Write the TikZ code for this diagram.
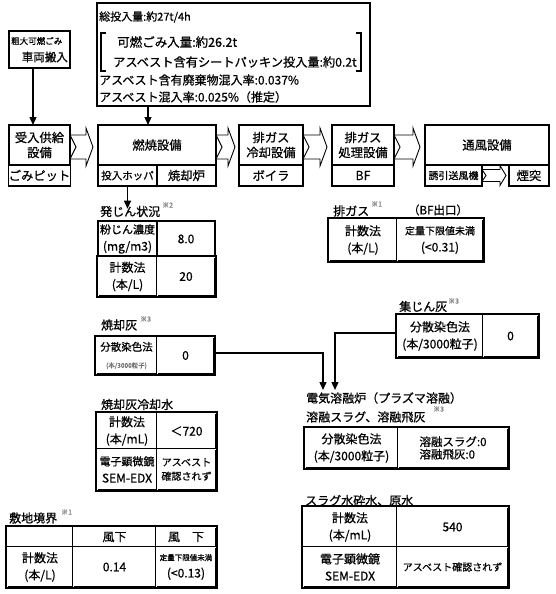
\documentclass[tikz,border=0pt]{standalone}
\usepackage{fontspec}
\setmainfont{Noto Sans CJK JP}[RawFeature={embolden=0.7}]
\usetikzlibrary{arrows.meta,calc}
\newcommand\fs[2]{\fontsize{#1}{#2}\selectfont}
\newcommand\mycell[7][]{\node[cellbase,#1,minimum width={(#5-#3)*1pt},minimum height={(#6-#4)*1pt}] (#2) at ({(#3+#5)/2},{(#4+#6)/2}) {#7};}
\newcommand\tframe[2]{\draw[frame] ([shift={(-1,-1)}]#1.north west) rectangle ([shift={(1,1)}]#2.south east);}
% #1 from, #2 to, #3 centre offset below from.north east, #4 body half, #5 head half, #6 notch, #7 head length, #8 gap
\newcommand\blockarr[8]{%
\draw[barrow] let \p1=(#1.north east), \p2=(#2.west) in
 ({\x1},{\y1-#3pt+#4pt}) -- ({\x2-#8pt-#7pt},{\y1-#3pt+#4pt}) -- ({\x2-#8pt-#7pt},{\y1-#3pt+#5pt}) -- ({\x2-#8pt},{\y1-#3pt}) -- ({\x2-#8pt-#7pt},{\y1-#3pt-#5pt}) -- ({\x2-#8pt-#7pt},{\y1-#3pt-#4pt}) -- ({\x1},{\y1-#3pt-#4pt}) -- ({\x1+#6pt},{\y1-#3pt}) -- cycle;}
\begin{document}
\begin{tikzpicture}[x=1pt,y=-1pt,
 cellbase/.style={inner sep=0pt, outer sep=0pt, align=center, font=\fs{12}{17}},
 pbox/.style={draw, line width=1.3pt, font=\fs{12.3}{15}},
 scell/.style={draw, line width=1.1pt},
 dcell/.style={draw, line width=0.6pt, double=white, double distance=1.0pt},
 frame/.style={draw, line width=1.1pt},
 lbl/.style={inner sep=0pt, anchor=west, font=\fs{12}{14}},
 note/.style={inner sep=0pt, anchor=west, text=black!50, font=\fs{7}{8}},
 txt/.style={inner sep=0pt, anchor=west, font=\fs{12}{14}},
 arr/.style={line width=1.3pt, -{Triangle[width=7pt,length=8pt]}},
 barrow/.style={line width=0.9pt, fill=white, line join=miter},
 brk/.style={line width=1.1pt}
]
\path[use as bounding box, fill=white] (0,0) rectangle (555,594);

% ---- top boxes
\mycell[draw, line width=1.3pt]{sodai}{9}{31}{70}{68}{}
\node[txt, font=\fs{8.5}{10}] (sodaiA) at (11,41) {粗大可燃ごみ};
\node[txt, anchor=east, font=\fs{11.5}{14}] (sodaiB) at (68,57) {車両搬入};

\mycell[draw, line width=1.2pt]{info}{97}{3}{370}{106}{}
\node[txt, font=\fs{11}{13}] (i1) at (99,17) {総投入量:約27t/4h};
\node[txt, font=\fs{12.5}{14}] (i2) at (117,42) {可燃ごみ入量:約26.2t};
\node[txt, font=\fs{12.2}{14}] (i3) at (113,62) {アスベスト含有シートパッキン投入量:約0.2t};
\node[txt] (i4) at (99,80) {アスベスト含有廃棄物混入率:0.037\%};
\node[txt] (i5) at (99,97) {アスベスト混入率:0.025\%（推定）};
\draw[brk] (106,33) -- (101,33) -- (101,71) -- (106,71);
\draw[brk] (356,33) -- (361,33) -- (361,71) -- (356,71);

% ---- process row
\mycell[pbox]{ukeireT}{9}{125}{70}{165}{受入供給\\設備}
\mycell[pbox]{ukeireB}{9}{165}{70}{186}{ごみピット}
\mycell[pbox]{nenshoT}{98}{125}{216}{165}{燃焼設備}
\mycell[pbox, font=\fs{10.5}{13}]{hopper}{98}{165}{157}{186}{投入ホッパ}
\mycell[pbox]{furnace}{157}{165}{216}{186}{焼却炉}
\mycell[pbox]{coolT}{239}{125}{303}{165}{排ガス\\冷却設備}
\mycell[pbox]{boiler}{239}{165}{303}{186}{ボイラ}
\mycell[pbox]{treatT}{332}{125}{394}{165}{排ガス\\処理設備}
\mycell[pbox]{bf}{332}{165}{394}{186}{BF}
\mycell[pbox]{fanT}{425}{125}{549}{165}{通風設備}
\mycell[pbox, font=\fs{10}{12}]{yuin}{425}{165}{482}{186}{誘引送風機}
\mycell[pbox]{entotsu}{509}{165}{549}{186}{煙突}

\blockarr{ukeireT}{nenshoT}{22}{12}{19}{6}{7}{5}
\blockarr{nenshoT}{coolT}{22}{12}{19}{6}{7}{4}
\blockarr{coolT}{treatT}{22}{12}{19}{6}{7}{5}
\blockarr{treatT}{fanT}{22}{12}{19}{6}{7}{5}
\blockarr{yuin}{entotsu}{10.5}{6}{10}{4}{6}{3}

\draw[arr] ([xshift=-6.5]sodai.south) -- ([xshift=-6.5]ukeireT.north);
\draw[arr] ([xshift=-9]info.south -| nenshoT.north) -- ([xshift=-9]nenshoT.north);

% ---- 発じん状況
\node[lbl] (hlbl) at (100,211.5) {発じん状況};
\node[note] (hn) at (162,205) {※2};
\draw[arr] (hopper.south) -- ([yshift=-3]hopper.south |- hlbl.north);
\mycell[scell]{h11}{98}{221}{157}{257}{{\fs{11}{17}粉じん濃度}\\(mg/m3)}
\mycell[scell]{h12}{157}{221}{215}{257}{8.0}
\mycell[dcell]{h21}{98}{257}{157}{296}{計数法\\(本/L)}
\mycell[dcell]{h22}{157}{257}{215}{296}{20}
\tframe{h21}{h22}

% ---- 排ガス
\node[lbl] (glbl) at (333,211) {排ガス};
\node[note] (gn) at (371,204) {※1};
\node[lbl, anchor=center, font=\fs{11.5}{14}] (gbf) at (438,210) {（BF出口）};
\mycell[dcell]{g1}{329}{219}{397}{261}{計数法\\(本/L)}
\mycell[dcell]{g2}{397}{219}{483}{261}{{\fs{10}{11}定量下限値未満}\\(<0.31)}
\tframe{g1}{g2}

% ---- 集じん灰
\node[lbl] (slbl) at (399,306.5) {集じん灰};
\node[note] (sn) at (448,301) {※3};
\mycell[dcell]{s1}{397}{315}{483}{357}{分散染色法\\(本/3000粒子)}
\mycell[dcell]{s2}{483}{315}{538}{357}{0}
\tframe{s1}{s2}

% ---- 焼却灰
\node[lbl] (klbl) at (101,325) {焼却灰};
\node[note] (kn) at (140,319) {※3};
\mycell[dcell]{k1}{96}{337}{157}{374}{{\fs{10.5}{14}分散染色法}\\{\fs{6.5}{8}\textcolor{black!55}{(本/3000粒子)}}}
\mycell[dcell]{k2}{157}{337}{214}{374}{0}
\tframe{k1}{k2}

% ---- 電気溶融炉
\node[lbl] (dlbl) at (306,398) {電気溶融炉（プラズマ溶融）};
\coordinate (m1) at (323,390);
\coordinate (m2) at (335,390);
\draw[arr] (k2.east |- 0,353) -| (m1);
\draw[arr] (s1.west |- 0,333) -| (m2);

\node[lbl] (ylbl) at (306,417) {溶融スラグ、溶融飛灰};
\node[note] (yn) at (433,409) {※3};
\mycell[dcell]{y1}{305}{428}{398}{468}{分散染色法\\(本/3000粒子)}
\mycell[dcell, align=left, font=\fs{11.5}{12.5}]{y2}{398}{428}{508}{468}{溶融スラグ:0\\溶融飛灰:0}
\tframe{y1}{y2}

% ---- 焼却灰冷却水
\node[lbl] (wlbl) at (101,404.5) {焼却灰冷却水};
\mycell[dcell]{w11}{97}{413}{157}{449}{計数法\\(本/mL)}
\mycell[dcell]{w12}{157}{413}{216}{449}{＜720}
\mycell[dcell]{w21}{97}{449}{157}{490}{{\fs{11}{14}電子顕微鏡}\\SEM-EDX}
\mycell[dcell, font=\fs{10}{14}]{w22}{157}{449}{216}{490}{アスベスト\\確認されず}
\tframe{w11}{w22}

% ---- 敷地境界
\node[lbl] (blbl) at (9,518) {敷地境界};
\node[note] (bn) at (61,512) {※1};
\mycell[dcell]{b11}{7}{527}{73}{547}{}
\mycell[dcell]{b12}{73}{527}{156}{547}{風下}
\mycell[dcell]{b13}{156}{527}{216}{547}{風　下}
\mycell[dcell]{b21}{7}{547}{73}{587}{計数法\\(本/L)}
\mycell[dcell]{b22}{73}{547}{156}{587}{0.14}
\mycell[dcell]{b23}{156}{547}{216}{587}{{\fs{7.5}{10}定量下限値未満}\\(<0.13)}
\tframe{b11}{b23}

% ---- スラグ水砕水、原水
\node[lbl] (rlbl) at (305,500.5) {スラグ水砕水、原水};
\mycell[dcell]{r11}{303}{507}{397}{547}{計数法\\(本/mL)}
\mycell[dcell]{r12}{397}{507}{508}{547}{540}
\mycell[dcell]{r21}{303}{547}{397}{587}{電子顕微鏡\\SEM-EDX}
\mycell[dcell, font=\fs{10}{13}]{r22}{397}{547}{508}{587}{アスベスト確認されず}
\tframe{r11}{r22}
\end{tikzpicture}
\end{document}
